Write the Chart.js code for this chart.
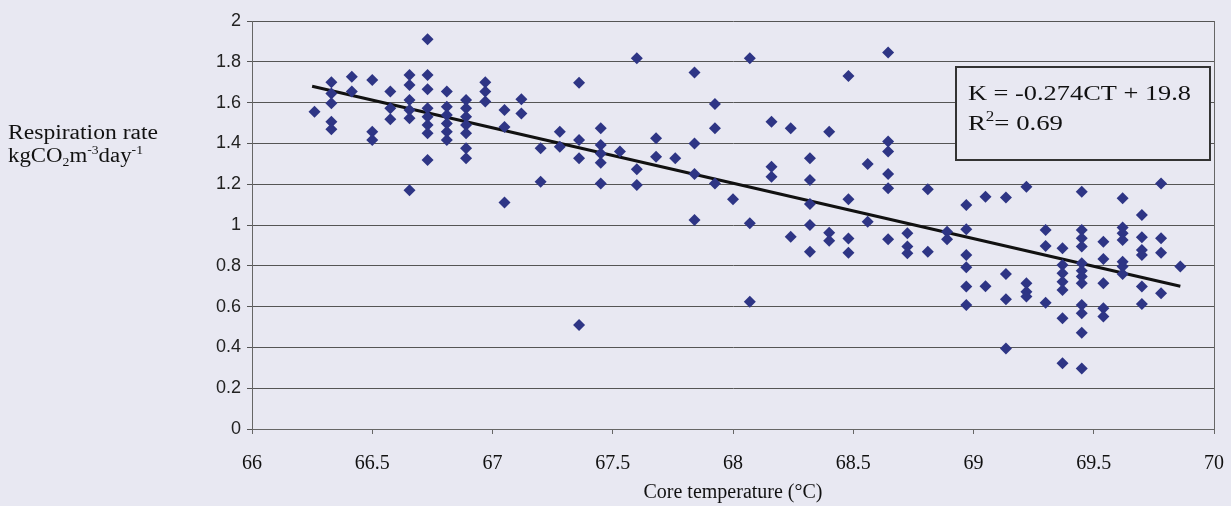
<!DOCTYPE html>
<html>
<head>
<meta charset="utf-8">
<script src="https://cdn.jsdelivr.net/npm/chart.js@4.4.1/dist/chart.umd.min.js"></script>
<style>
  html, body { margin: 0; padding: 0; background: #e8e8f2; }
  #wrap { width: 1231px; height: 506px; }
</style>
</head>
<body>
<div id="wrap"><canvas id="respChart" width="1231" height="506"></canvas></div>
<script>
// Core temperature (°C) and respiration rate (kgCO2 m-3 day-1)
const coreTemp = [
  66.26,
  66.33, 66.33, 66.33, 66.33, 66.33,
  66.415, 66.415,
  66.50, 66.50, 66.50,
  66.575, 66.575, 66.575,
  66.655, 66.655, 66.655, 66.655, 66.655, 66.655,
  66.73, 66.73, 66.73, 66.73, 66.73, 66.73, 66.73, 66.73,
  66.81, 66.81, 66.81, 66.81, 66.81, 66.81,
  66.89, 66.89, 66.89, 66.89, 66.89, 66.89, 66.89,
  66.97, 66.97, 66.97,
  67.05, 67.05, 67.05,
  67.12, 67.12,
  67.20, 67.20,
  67.28, 67.28,
  67.36, 67.36, 67.36, 67.36,
  67.45, 67.45, 67.45, 67.45, 67.45,
  67.53,
  67.60, 67.60, 67.60,
  67.68, 67.68,
  67.76,
  67.84, 67.84, 67.84, 67.84,
  67.925, 67.925, 67.925,
  68.00,
  68.07, 68.07, 68.07,
  68.16, 68.16, 68.16,
  68.24, 68.24,
  68.32, 68.32, 68.32, 68.32, 68.32,
  68.40, 68.40, 68.40,
  68.48, 68.48, 68.48, 68.48,
  68.56, 68.56,
  68.645, 68.645, 68.645, 68.645, 68.645, 68.645,
  68.725, 68.725, 68.725,
  68.81, 68.81,
  68.89, 68.89,
  68.97, 68.97, 68.97, 68.97, 68.97, 68.97,
  69.05, 69.05,
  69.135, 69.135, 69.135, 69.135,
  69.22, 69.22, 69.22, 69.22,
  69.30, 69.30, 69.30,
  69.37, 69.37, 69.37, 69.37, 69.37, 69.37, 69.37,
  69.45, 69.45, 69.45, 69.45, 69.45, 69.45, 69.45, 69.45, 69.45, 69.45, 69.45, 69.45,
  69.54, 69.54, 69.54, 69.54, 69.54,
  69.62, 69.62, 69.62, 69.62, 69.62, 69.62, 69.62,
  69.70, 69.70, 69.70, 69.70, 69.70, 69.70,
  69.78, 69.78, 69.78, 69.78,
  69.86
];
const respRate = [
  1.555,
  1.70, 1.645, 1.597, 1.506, 1.469,
  1.727, 1.654,
  1.711, 1.457, 1.417,
  1.654, 1.572, 1.518,
  1.735, 1.686, 1.613, 1.564, 1.523, 1.17,
  1.91, 1.735, 1.665, 1.572, 1.531, 1.49, 1.45, 1.319,
  1.654, 1.58, 1.539, 1.498, 1.457, 1.417,
  1.613, 1.572, 1.531, 1.49, 1.45, 1.376, 1.327,
  1.70, 1.654, 1.605,
  1.564, 1.48, 1.11,
  1.616, 1.547,
  1.376, 1.212,
  1.457, 1.384,
  1.697, 1.417, 1.327, 0.51,
  1.474, 1.392, 1.35, 1.305, 1.204,
  1.36,
  1.817, 1.273, 1.196,
  1.425, 1.335,
  1.327,
  1.747, 1.40, 1.25, 1.025,
  1.593, 1.474, 1.204,
  1.126,
  1.817, 1.008, 0.624,
  1.506, 1.286, 1.237,
  1.474, 0.943,
  1.327, 1.22, 1.103, 1.0, 0.869,
  1.457, 0.962, 0.923,
  1.73, 1.126, 0.934, 0.864,
  1.299, 1.016,
  1.845, 1.409, 1.36, 1.25, 1.18, 0.93,
  0.959, 0.894, 0.861,
  1.175, 0.869,
  0.967, 0.93,
  1.098, 0.979, 0.853, 0.793, 0.698, 0.608,
  1.139, 0.70,
  1.135, 0.76, 0.636, 0.395,
  1.188, 0.714, 0.673, 0.649,
  0.975, 0.897, 0.619,
  0.886, 0.804, 0.763, 0.722, 0.681, 0.543, 0.322,
  1.163, 0.975, 0.935, 0.894, 0.812, 0.776, 0.747, 0.714, 0.608, 0.567, 0.472, 0.297,
  0.918, 0.833, 0.714, 0.592, 0.551,
  1.131, 0.988, 0.959, 0.926, 0.82, 0.796, 0.76,
  1.049, 0.94, 0.877, 0.853, 0.698, 0.613,
  1.204, 0.935, 0.864, 0.665,
  0.796
];

// trend line end points as drawn
const trendTemp = [66.25, 69.86];
const trendRate = [1.68, 0.70];

const xTicks = [66, 66.5, 67, 67.5, 68, 68.5, 69, 69.5, 70];
const yTicks = [0, 0.2, 0.4, 0.6, 0.8, 1, 1.2, 1.4, 1.6, 1.8, 2];

const xTitle = 'Core temperature (°C)';
const yTitle1 = 'Respiration rate';
const yTitle2 = [['kgCO', 'n'], ['2', 'sub'], ['m', 'n'], ['-3', 'sup'], ['day', 'n'], ['-1', 'sup']];
const eqLine1 = [['K = -0.274CT + 19.8', 'n']];
const eqLine2 = [['R', 'n'], ['2', 'sup'], ['= 0.69', 'n']];

const serif = '"Liberation Serif", "Times New Roman", serif';
const sans = '"Liberation Sans", Arial, sans-serif';

// draw a line of text with sub/superscripts, stretched to a given width
function drawRich(ctx, parts, x, y, size, width) {
    const small = Math.round(size * 0.62);
    let total = 0;
    const widths = parts.map(([t, k]) => {
        ctx.font = (k === 'n' ? size : small) + 'px ' + serif;
        const w = ctx.measureText(t).width;
        total += w;
        return w;
    });
    const sx = width ? width / total : 1;
    ctx.save();
    ctx.translate(x, y);
    ctx.scale(sx, 1);
    ctx.textBaseline = 'alphabetic';
    ctx.textAlign = 'left';
    let cx = 0;
    parts.forEach(([t, k], i) => {
        ctx.font = (k === 'n' ? size : small) + 'px ' + serif;
        const dy = k === 'sub' ? size * 0.22 : (k === 'sup' ? -size * 0.42 : 0);
        ctx.fillText(t, cx, dy);
        cx += widths[i];
    });
    ctx.restore();
}

const extras = {
    id: 'extras',
    afterDraw(chart) {
        const ctx = chart.ctx;
        ctx.save();
        ctx.fillStyle = '#111';
        drawRich(ctx, [[yTitle1, 'n']], 8, 139, 20, 150);
        drawRich(ctx, yTitle2, 8, 162, 20, 135);

        // equation box
        ctx.fillStyle = '#e8e8f2';
        ctx.fillRect(956, 67, 254, 93);
        ctx.strokeStyle = '#333';
        ctx.lineWidth = 2;
        ctx.strokeRect(956, 67, 254, 93);
        ctx.fillStyle = '#111';
        drawRich(ctx, eqLine1, 968, 100, 22, 223);
        drawRich(ctx, eqLine2, 968, 130, 22, 95);
        ctx.restore();
    }
};

const points = coreTemp.map((t, i) => ({ x: t, y: respRate[i] }));
const trend = trendTemp.map((t, i) => ({ x: t, y: trendRate[i] }));

new Chart(document.getElementById('respChart'), {
    type: 'scatter',
    data: {
        datasets: [
            {
                label: 'Respiration rate',
                data: points,
                pointStyle: 'rectRot',
                pointRadius: 6,
                pointHoverRadius: 6,
                backgroundColor: '#2e3585',
                borderColor: '#2e3585',
                borderWidth: 0
            },
            {
                label: 'Trend',
                type: 'line',
                data: trend,
                borderColor: '#111',
                borderWidth: 3,
                pointRadius: 0,
                fill: false
            }
        ]
    },
    options: {
        responsive: false,
        animation: false,
        layout: { padding: { left: 212, right: 17, top: 21, bottom: 0 } },
        plugins: {
            legend: { display: false },
            tooltip: { enabled: false }
        },
        scales: {
            x: {
                type: 'linear',
                min: 66,
                max: 70,
                afterBuildTicks: s => { s.ticks = xTicks.map(v => ({ value: v })); },
                afterFit: s => { s.height = 77; s.paddingLeft = 0; s.paddingRight = 0; },
                grid: {
                    color: c => (c.tick && c.tick.value === 70) ? '#666' : 'rgba(0,0,0,0)',
                    tickColor: '#666',
                    tickLength: 5,
                    lineWidth: 1
                },
                border: { color: '#666', width: 1 },
                ticks: {
                    padding: 18,
                    color: '#111',
                    font: { family: serif, size: 20 },
                    maxRotation: 0,
                    callback: v => String(+Number(v).toFixed(1))
                },
                title: {
                    display: true,
                    text: xTitle,
                    color: '#111',
                    font: { family: serif, size: 20 },
                    padding: { top: 0, bottom: 1 }
                }
            },
            y: {
                min: 0,
                max: 2,
                afterBuildTicks: s => { s.ticks = yTicks.map(v => ({ value: v })); },
                afterFit: s => { s.width = 40; },
                grid: {
                    color: '#555',
                    tickColor: '#555',
                    tickLength: 5,
                    lineWidth: 1
                },
                border: { color: '#666', width: 1 },
                ticks: {
                    padding: 6,
                    color: '#222',
                    font: { family: sans, size: 18 },
                    callback: v => String(+Number(v).toFixed(1))
                }
            }
        }
    },
    plugins: [extras]
});
</script>
</body>
</html>
